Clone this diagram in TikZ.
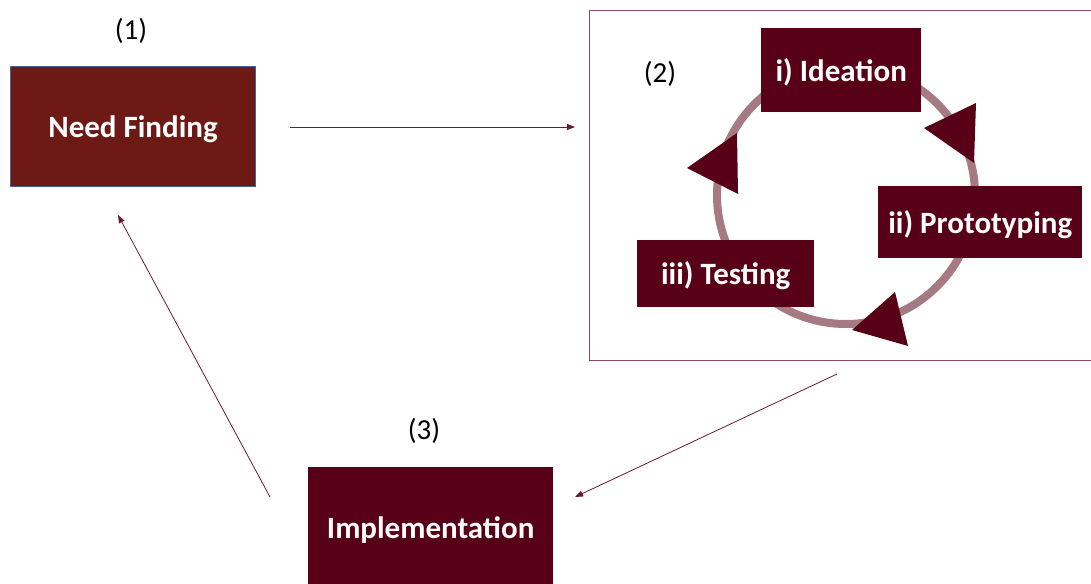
\documentclass[tikz,border=0pt]{standalone}
\usepackage{fontspec}
\setmainfont{Carlito}
\usetikzlibrary{arrows.meta}
\definecolor{nfred}{HTML}{6D1A16}
\definecolor{maroon}{HTML}{570017}
\definecolor{ringc}{HTML}{A57A82}
\definecolor{linec}{HTML}{6A1A30}
\definecolor{framec}{HTML}{8A4A5C}
\definecolor{nfborder}{HTML}{44629A}
\begin{document}
\begin{tikzpicture}[x=1pt,y=-1pt,
  box/.style={fill=maroon,text=white,font=\fontsize{31}{36}\selectfont\bfseries,inner sep=0pt,text height=25pt,text depth=3pt,anchor=north west},
  lbl/.style={font=\fontsize{29}{34}\selectfont,text=black},
  conn/.style={draw=linec,line width=0.8pt,-{Triangle[length=8pt,width=6pt]}},
  tri/.style={fill=maroon}]
\useasboundingbox (0,0) rectangle (1091,583);
% stage 1
\node[box,fill=nfred,draw=nfborder,line width=1pt,minimum width=245pt,minimum height=120pt] (nf) at (10,66) {Need Finding};
\node[lbl] (l1) at (131,31) {(1)};
% stage 2 frame
\node[draw=framec,line width=1.2pt,anchor=north west,minimum width=506pt,minimum height=350pt,inner sep=0pt] (frame) at (589,10) {};
\node[lbl] (l2) at (660,74) {(2)};
% cycle ring
\draw[ringc,line width=8pt] (846,195) circle[radius=129];
% triangles
\fill[tri] (687,168) -- (737,133) -- (738,194) -- cycle;
\fill[tri] (924,128) -- (976,103) -- (974,163) -- cycle;
\fill[tri] (852,330) -- (895,292) -- (908,346) -- cycle;
% cycle boxes
\node[box,minimum width=160pt,minimum height=84pt] (idea) at (761,28) {i) Ideation};
\node[box,minimum width=204pt,minimum height=72pt] (proto) at (878,186) {ii) Prototyping};
\node[box,minimum width=177pt,minimum height=67pt] (test) at (637,240) {iii) Testing};
% stage 3
\node[box,minimum width=245pt,minimum height=120pt] (impl) at (308,467) {Implementation};
\node[lbl] (l3) at (424,431) {(3)};
% connectors
\coordinate (a1s) at (290,127);
\coordinate (a1e) at (575,127);
\coordinate (a2s) at (837,374);
\coordinate (a2e) at (575,497);
\coordinate (a3s) at (270,497);
\coordinate (a3e) at (118,215);
\draw[conn] (a1s) -- (a1e);
\draw[conn] (a2s) -- (a2e);
\draw[conn] (a3s) -- (a3e);
\end{tikzpicture}
\end{document}
